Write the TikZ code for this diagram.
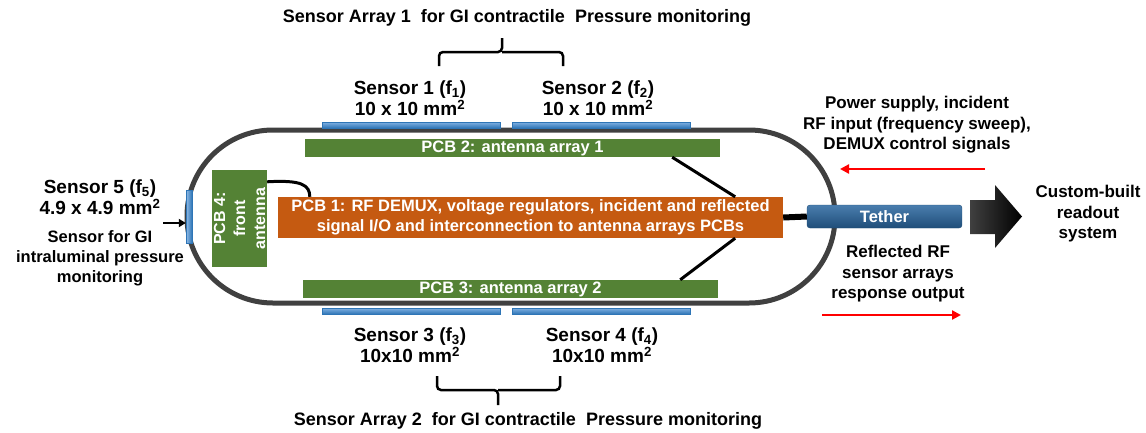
\documentclass[tikz,border=0pt]{standalone}
\usepackage{fontspec}
\setmainfont{Liberation Sans}
\usetikzlibrary{arrows.meta,calc}
\definecolor{shell}{HTML}{404040}
\definecolor{pcbgreen}{HTML}{548235}
\definecolor{pcborange}{HTML}{C55A11}
\definecolor{padblue}{HTML}{4A8FD6}
\definecolor{paddark}{HTML}{2E75B6}
\definecolor{tethertop}{HTML}{4A7DAE}
\definecolor{tetherbot}{HTML}{1F4E79}
\definecolor{sigred}{HTML}{FF0000}
\tikzset{
  lbl/.style={font=\fontsize{17}{20.5}\selectfont\bfseries, align=center, inner sep=0pt},
  senslbl/.style={font=\fontsize{19}{21}\selectfont\bfseries, align=center, inner sep=0pt},
  pcb/.style={fill=pcbgreen, text=white, inner sep=0pt,
    font=\fontsize{16.5}{20}\selectfont\bfseries, align=center},
  pcbmain/.style={fill=pcborange, text=white, inner sep=0pt,
    font=\fontsize{16.5}{20}\selectfont\bfseries, align=center},
  pad/.style={top color=padblue!70!white, bottom color=paddark, draw=paddark, line width=0.4pt, inner sep=0pt},
  vpad/.style={left color=padblue!60!white, right color=paddark, draw=paddark, line width=0.4pt, inner sep=0pt},
  wire/.style={draw=black, line width=3pt},
  sig/.style={draw=sigred, line width=2.8pt, -{Triangle[length=9pt,width=9pt]}},
  bracket/.style={draw=black, line width=2.5pt, rounded corners=4pt}
}
\begin{document}
\begin{tikzpicture}[x=1pt,y=-1pt]
\useasboundingbox (0,0) rectangle (1146,432);

% capsule shell
\draw[draw=shell, line width=5pt, rounded corners=86pt] (187,130) rectangle (835,303);

% sensor pads
\node[pad, minimum width=178pt, minimum height=6pt] (s1) at (411,125) {};
\node[pad, minimum width=178pt, minimum height=6pt] (s2) at (601,125) {};
\node[pad, minimum width=178pt, minimum height=6pt] (s3) at (411,311) {};
\node[pad, minimum width=178pt, minimum height=6pt] (s4) at (601,311) {};
\node[vpad, minimum width=6pt, minimum height=53pt] (s5) at (189,216.5) {};

% circuit boards
\node[pcb, minimum width=415pt, minimum height=18pt] (pcb2) at (512.5,148) {PCB 2: antenna array 1};
\node[pcb, minimum width=415pt, minimum height=18pt] (pcb3) at (510.5,289) {PCB 3: antenna array 2};
\node[pcbmain, minimum width=505pt, minimum height=41pt] (pcb1) at (530.5,217.5)
  {PCB 1: RF DEMUX, voltage regulators, incident and reflected\\signal I/O and interconnection to antenna arrays PCBs};
\node[pcb, minimum width=55pt, minimum height=97pt] (pcb4) at (239.5,218.5) {};
\node[pcb, fill=none, rotate=90, font=\fontsize{16}{20}\selectfont\bfseries] (pcb4txt) at (pcb4.center) {PCB 4:\\front\\antenna};

% tether
\node[top color=tethertop, bottom color=tetherbot, draw=tetherbot, rounded corners=3pt,
  minimum width=155pt, minimum height=23pt, inner sep=0pt, text=white,
  font=\fontsize{16.5}{20}\selectfont\bfseries] (tether) at (884.5,216.5) {Tether};

% interconnections
\draw[wire] ($(pcb4.north east)+(0,12)$) .. controls +(34,-2) and +(0,-12) .. ($(pcb1.north west)+(32,0)$);
\draw[wire] ($(pcb2.south east)+(-48,0)$) -- ($(pcb1.north east)+(-48,0)$);
\draw[wire] ($(pcb3.north east)+(-38,0)$) -- ($(pcb1.south east)+(-48,0)$);
\draw[draw=black, line width=6pt] (pcb1.east) -- (tether.west);

% readout arrow
\shade[left color=black!75, right color=black] (970,200) -- (995,200) -- (995,185) -- (1022,216.5) -- (995,248) -- (995,234) -- (970,234) -- cycle;
\node[lbl] (readout) at (1088,214) {Custom-built\\readout\\system};

% signal flow
\node[lbl] (incident) at (917,125) {Power supply, incident\\RF input (frequency sweep),\\DEMUX control signals};
\coordinate (inA) at (985,169);
\coordinate (inB) at (840,169);
\draw[sig] (inA) -- (inB);
\node[lbl] (reflected) at (898,274) {Reflected RF\\sensor arrays\\response output};
\coordinate (outA) at (822,315);
\coordinate (outB) at (961,315);
\draw[sig] (outA) -- (outB);

% sensor labels
\node[senslbl] (l1) at (410,98) {Sensor 1 (f\textsubscript{1})\\10 x 10 mm\textsuperscript{2}};
\node[senslbl] (l2) at (598,98) {Sensor 2 (f\textsubscript{2})\\10 x 10 mm\textsuperscript{2}};
\node[senslbl] (l3) at (410,345) {Sensor 3 (f\textsubscript{3})\\10x10 mm\textsuperscript{2}};
\node[senslbl] (l4) at (602,345) {Sensor 4 (f\textsubscript{4})\\10x10 mm\textsuperscript{2}};
\node[senslbl] (l5) at (100,197.5) {Sensor 5 (f\textsubscript{5})\\4.9 x 4.9 mm\textsuperscript{2}};
\node[lbl, font=\fontsize{16.5}{20}\selectfont\bfseries] (l5b) at (100,258) {Sensor for GI\\intraluminal pressure\\monitoring};
\coordinate (s5tail) at (163,223);
\draw[draw=black, line width=2pt, -{Triangle[length=7pt,width=8pt]}] (s5tail) -- (s5.west |- s5tail);

% array titles and brackets
\node[lbl, font=\fontsize{18}{21}\selectfont\bfseries] (t1) at (517,18) {Sensor Array 1~ for GI contractile~ Pressure monitoring};
\node[lbl, font=\fontsize{18}{21}\selectfont\bfseries] (t2) at (528,421) {Sensor Array 2~ for GI contractile~ Pressure monitoring};
\draw[bracket] (439,66) |- (502,52) -- (502,38);
\draw[bracket] (563,66) |- (502,52);
\draw[bracket] (437,376) |- (498,390) -- (498,405);
\draw[bracket] (560,376) |- (498,390);
\end{tikzpicture}
\end{document}
